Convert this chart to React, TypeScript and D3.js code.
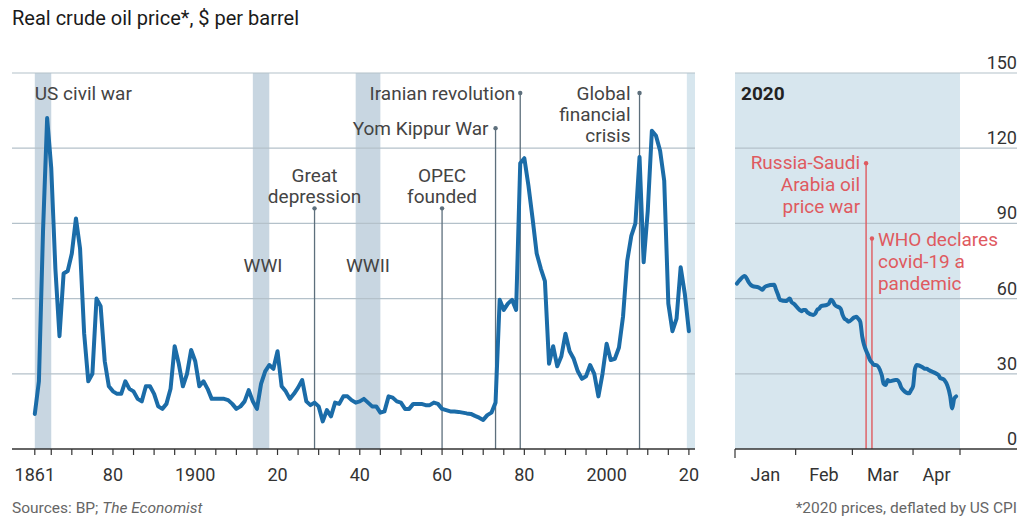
import * as d3 from "d3";

// annual real price, 2020 $ per barrel, starting 1861
const firstYear = 1861;
const annualPrice = [
  14, 27, 87, 132, 112, 72, 45, 70, 71, 78, // 1861-1870
  92, 80, 46, 27, 30, 60, 57, 35, 25, 23, // 1871-1880
  22, 22, 27, 24, 23, 20, 19, 25, 25, 22, // 1881-1890
  17, 16, 18, 24, 41, 34, 25, 30, 39.5, 35, // 1891-1900
  25, 27, 24, 20, 20, 20, 20, 19.5, 18, 16, // 1901-1910
  17, 19, 23.5, 19, 16, 26, 31, 33.5, 32, 39, // 1911-1920
  25, 23, 20, 22, 24.5, 27.5, 19, 17.5, 18.5, 17, // 1921-1930
  11, 15.5, 13, 18.5, 18, 21, 21, 19.5, 18.5, 19, // 1931-1940
  20, 18.5, 17, 17, 14.5, 15, 21, 20.5, 19, 18.5, // 1941-1950
  16, 16, 18, 18, 18, 17.5, 17.5, 18.5, 18, 16, // 1951-1960
  15.5, 15, 15, 14.8, 14.5, 14.2, 14, 13.2, 12.5, 11.6, // 1961-1970
  13.5, 14.5, 18.5, 59.5, 55.5, 58, 59.5, 55.5, 114, 116, // 1971-1980
  105, 92, 78, 72, 67, 34, 41, 33, 37, 46, // 1981-1990
  39, 36, 31, 28, 29, 33.5, 30, 21, 30, 42, // 1991-2000
  35.5, 36, 40.5, 53, 75, 85, 90, 116.5, 74.5, 95, // 2001-2010
  127, 125, 119, 107, 58, 47, 52, 72.5, 62, 47, // 2011-2020
];

// 2020 daily price
const dailyDates = [
  "01-02", "01-03", "01-06", "01-07", "01-08", "01-09", "01-10", "01-13", "01-14", "01-15",
  "01-16", "01-17", "01-21", "01-22", "01-23", "01-24", "01-27", "01-28", "01-29", "01-30",
  "01-31", "02-03", "02-04", "02-05", "02-06", "02-07", "02-10", "02-11", "02-12", "02-13",
  "02-14", "02-17", "02-18", "02-19", "02-20", "02-21", "02-24", "02-25", "02-26", "02-27",
  "02-28", "03-02", "03-03", "03-04", "03-05", "03-06", "03-09", "03-10", "03-11", "03-12",
  "03-13", "03-16", "03-17", "03-18", "03-19", "03-20", "03-23", "03-24", "03-25", "03-26",
  "03-27", "03-30", "03-31", "04-01", "04-02", "04-03", "04-06", "04-07", "04-08", "04-09",
  "04-13", "04-14", "04-15", "04-16", "04-17", "04-20", "04-21", "04-22", "04-23",
];
const dailyPrice = [
  66, 67, 69, 68, 66.5, 65.5, 65, 64.5, 64, 63.5,
  64.5, 65, 65.5, 63.5, 61.5, 59.5, 59, 59.5, 60, 58.5,
  58, 55.5, 55, 55.5, 55.5, 54.5, 53.5, 54, 55.5, 56,
  57, 57.5, 58, 59.5, 59, 57.5, 56, 53.5, 52, 51.5,
  50.8, 52.5, 52.8, 52, 50.8, 45, 37.5, 35.5, 34.5, 33.5,
  33.5, 29.5, 26, 25.5, 27.5, 27, 27.5, 27.5, 26.5, 24.5,
  23.5, 22.2, 23.5, 25, 32, 33.5, 32.5, 32, 32, 31.5,
  30, 29.5, 28.2, 28, 27.5, 21, 16.2, 20, 21,
];

const yTicks = [0, 30, 60, 90, 120, 150];
const xTickLabels = [
  { year: 1861, label: "1861" },
  { year: 1880, label: "80" },
  { year: 1900, label: "1900" },
  { year: 1920, label: "20" },
  { year: 1940, label: "40" },
  { year: 1960, label: "60" },
  { year: 1980, label: "80" },
  { year: 2000, label: "2000" },
  { year: 2020, label: "20" },
];
const monthLabels = ["Jan", "Feb", "Mar", "Apr"];

const wars = [
  { name: "US civil war", from: 1861, to: 1865 },
  { name: "WWI", from: 1914, to: 1918 },
  { name: "WWII", from: 1939, to: 1945 },
];

const events = [
  { name: "Great depression", year: 1929 },
  { name: "OPEC founded", year: 1960 },
  { name: "Yom Kippur War", year: 1973 },
  { name: "Iranian revolution", year: 1979 },
  { name: "Global financial crisis", year: 2008 },
];

const events2020 = [
  { name: "Russia-Saudi Arabia oil price war", date: "03-08" },
  { name: "WHO declares covid-19 a pandemic", date: "03-11" },
];

const W = 1036;
const H = 518;
const FONT = "Roboto, 'Noto Sans', sans-serif";
const BLUE = "#1b6ca8";
const GRID = "#b4c1ca";
const BAND = "#c8d6e1";
const PANEL = "#d7e6ee";
const ANN = "#5d6f7c";
const RED = "#df5a5f";
const TXT = "#444";

const toDate = (s: string) => new Date(`2020-${s}T00:00:00`);

export default function App() {
  const y = d3.scaleLinear().domain([0, 150]).range([449, 73]);
  const xL = d3.scaleLinear().domain([1861, 2020]).range([34.8, 688.9]);
  const xR = d3
    .scaleTime()
    .domain([new Date(2020, 0, 1), new Date(2020, 3, 25)])
    .range([735, 960]);

  const leftLine = d3
    .line<number>()
    .x((_, i) => xL(firstYear + i))
    .y((d) => y(d))(annualPrice);

  const rightLine = d3
    .line<number>()
    .x((_, i) => xR(toDate(dailyDates[i])))
    .y((d) => y(d))
    .curve(d3.curveMonotoneX)(dailyPrice);

  const leftTicks = [1861, ...d3.range(1865, 2021, 5)];
  const monthStarts = [0, 1, 2, 3].map((m) => new Date(2020, m, 1));
  const rightTicks = [...monthStarts, xR.domain()[1]];

  // label layout for the events (value-space tip of the marker line)
  const evLayout: Record<string, { tip: number; anchor: string; dx: number; lines: string[]; base: number }> = {
    "Great depression": { tip: 96, anchor: "middle", dx: 0, lines: ["Great", "depression"], base: 182 },
    "OPEC founded": { tip: 96, anchor: "middle", dx: 0, lines: ["OPEC", "founded"], base: 182 },
    "Yom Kippur War": { tip: 128, anchor: "end", dx: -7, lines: ["Yom Kippur War"], base: 135 },
    "Iranian revolution": { tip: 142, anchor: "end", dx: -5, lines: ["Iranian revolution"], base: 100 },
    "Global financial crisis": { tip: 142, anchor: "end", dx: -9, lines: ["Global", "financial", "crisis"], base: 100 },
  };
  const ev2020Layout: Record<string, { tip: number; anchor: string; dx: number; lines: string[]; base: number }> = {
    "Russia-Saudi Arabia oil price war": { tip: 114, anchor: "end", dx: -6, lines: ["Russia-Saudi", "Arabia oil", "price war"], base: 169 },
    "WHO declares covid-19 a pandemic": { tip: 84, anchor: "start", dx: 6, lines: ["WHO declares", "covid-19 a", "pandemic"], base: 246 },
  };

  return (
    <svg
      width={W}
      height={H}
      style={{ position: "absolute", left: 0, top: 0, background: "#fff" }}
      fontFamily={FONT}
    >
      <rect x={0} y={0} width={W} height={H} fill="#fff" />
      <text x={12} y={25} fontSize={20} fill="#1a1a1a">
        Real crude oil price*, $ per barrel
      </text>

      {/* right panel background and the 2020 strip on the left panel */}
      <rect x={735} y={y(150)} width={960 - 735} height={y(0) - y(150)} fill={PANEL} />
      <rect x={xL(2019.5)} y={y(150)} width={695 - xL(2019.5)} height={y(0) - y(150)} fill={PANEL} />

      {/* war bands */}
      {wars.map((w) => (
        <rect
          key={w.name}
          x={xL(w.from)}
          y={y(150)}
          width={xL(w.to) - xL(w.from)}
          height={y(0) - y(150)}
          fill={BAND}
        />
      ))}

      {/* gridlines */}
      {yTicks.filter((t) => t > 0).map((t) => (
        <g key={t}>
          <line x1={12} x2={695} y1={y(t)} y2={y(t)} stroke={GRID} strokeWidth={1.2} />
          <line x1={735} x2={1017} y1={y(t)} y2={y(t)} stroke={GRID} strokeWidth={1.2} />
        </g>
      ))}

      {/* right axis labels */}
      {yTicks.map((t) => (
        <text key={t} x={1017} y={y(t) - 4} textAnchor="end" fontSize={18} fill="#333">
          {t}
        </text>
      ))}

      {/* war labels */}
      <text x={xL(1861)} y={100} fontSize={19} fill={TXT}>US civil war</text>
      <text x={(xL(1914) + xL(1918)) / 2 + 2} y={272} fontSize={19} fill={TXT} textAnchor="middle">WWI</text>
      <text x={(xL(1939) + xL(1945)) / 2} y={272} fontSize={19} fill={TXT} textAnchor="middle">WWII</text>

      {/* event markers */}
      {events.map((e) => {
        const L = evLayout[e.name];
        const x = xL(e.year);
        return (
          <g key={e.name}>
            <line x1={x} x2={x} y1={y(L.tip)} y2={y(0)} stroke={ANN} strokeWidth={1.3} />
            <circle cx={x} cy={y(L.tip)} r={2.2} fill={ANN} />
            {L.lines.map((s, i) => (
              <text key={s} x={x + L.dx} y={L.base + i * 21} fontSize={19} fill={TXT} textAnchor={L.anchor}>
                {s}
              </text>
            ))}
          </g>
        );
      })}

      {events2020.map((e) => {
        const L = ev2020Layout[e.name];
        const x = xR(toDate(e.date));
        return (
          <g key={e.name}>
            <line x1={x} x2={x} y1={y(L.tip)} y2={y(0)} stroke={RED} strokeWidth={1.4} />
            <circle cx={x} cy={y(L.tip)} r={2.2} fill={RED} />
            {L.lines.map((s, i) => (
              <text key={s} x={x + L.dx} y={L.base + i * 22} fontSize={19} fill={RED} textAnchor={L.anchor}>
                {s}
              </text>
            ))}
          </g>
        );
      })}

      <text x={741} y={100} fontSize={19} fontWeight="bold" fill="#222">2020</text>

      {/* data lines */}
      <path d={leftLine ?? ""} fill="none" stroke={BLUE} strokeWidth={4} strokeLinejoin="round" strokeLinecap="round" />
      <path d={rightLine ?? ""} fill="none" stroke={BLUE} strokeWidth={4} strokeLinejoin="round" strokeLinecap="round" />

      {/* x axes */}
      <line x1={12} x2={695} y1={y(0)} y2={y(0)} stroke="#333" strokeWidth={1.3} />
      {leftTicks.map((t) => (
        <line key={t} x1={xL(t)} x2={xL(t)} y1={y(0)} y2={y(0) + 6} stroke="#333" strokeWidth={1.2} />
      ))}
      {xTickLabels.map((t) => (
        <text key={t.year} x={xL(t.year)} y={481} textAnchor="middle" fontSize={18} fill="#333">
          {t.label}
        </text>
      ))}

      <line x1={735} x2={1017} y1={y(0)} y2={y(0)} stroke="#333" strokeWidth={1.3} />
      {rightTicks.map((d, i) => (
        <line key={i} x1={xR(d)} x2={xR(d)} y1={y(0)} y2={y(0) + (i === 0 ? 9 : 6)} stroke="#333" strokeWidth={1.2} />
      ))}
      {monthLabels.map((m, i) => (
        <text key={m} x={(xR(rightTicks[i]) + xR(rightTicks[i + 1])) / 2} y={481} textAnchor="middle" fontSize={18} fill="#333">
          {m}
        </text>
      ))}

      {/* footnotes */}
      <text x={12} y={513} fontSize={15.5} fill="#666">
        Sources: BP; <tspan fontStyle="italic">The Economist</tspan>
      </text>
      <text x={1017} y={513} fontSize={15.5} fill="#666" textAnchor="end">
        *2020 prices, deflated by US CPI
      </text>
    </svg>
  );
}
